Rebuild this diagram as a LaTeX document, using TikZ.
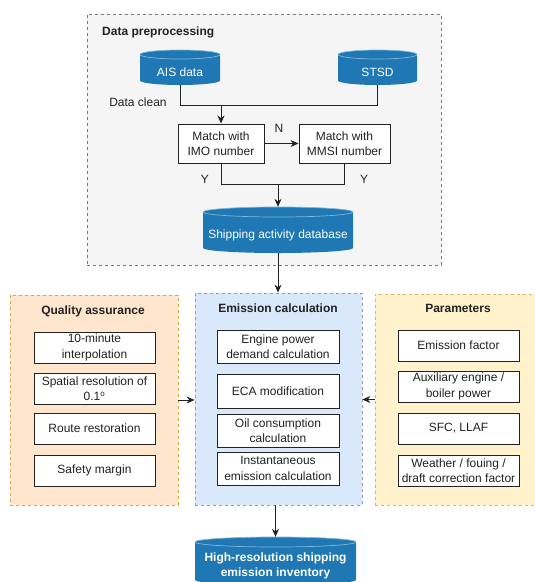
\documentclass[tikz,border=0pt]{standalone}
\usepackage{fontspec}
\setmainfont{Liberation Sans}
\usetikzlibrary{arrows.meta}
\definecolor{dbblue}{HTML}{1F78B4}
\definecolor{dbedge}{HTML}{7FB6DA}
\definecolor{grayfill}{HTML}{F5F5F5}
\definecolor{graydraw}{HTML}{777777}
\definecolor{qafill}{HTML}{FFE6CC}
\definecolor{qadraw}{HTML}{D9A441}
\definecolor{ecfill}{HTML}{DAE8FC}
\definecolor{ecdraw}{HTML}{7F9FCF}
\definecolor{pafill}{HTML}{FFF2CC}
\definecolor{padraw}{HTML}{D6B656}
\definecolor{ink}{HTML}{222222}
\tikzset{
  every node/.style={font=\fontsize{12}{15.5}\selectfont, text=ink},
  region/.style={draw, line width=0.8pt, dash pattern=on 3pt off 3pt, inner sep=0pt},
  innerbox/.style={draw=ink, fill=white, line width=1pt, align=center, inner sep=1pt, minimum width=121pt, minimum height=31pt},
  title/.style={font=\fontsize{12}{15.5}\selectfont\bfseries},
  lbl/.style={inner sep=1pt},
  conn/.style={draw=ink, line width=1pt},
  arr/.style={conn, -{Stealth[length=8pt,width=7pt]}},
  dbtext/.style={text=white, align=center, inner sep=0pt},
}
% name, cx, top, bottom, half width, ry, text
\newcommand{\dbcyl}[7]{%
  \fill[dbblue] (#2-#5,-#3-#6) arc[start angle=180,end angle=0,x radius=#5,y radius=#6]
     -- (#2+#5,-#4+#6) arc[start angle=0,end angle=-180,x radius=#5,y radius=#6] -- cycle;
  \draw[dbedge, line width=0.7pt] (#2,-#3-#6) ellipse [x radius=#5, y radius=#6];
  \node[inner sep=0pt, minimum width=2*#5, minimum height=#4-#3] (#1) at (#2,{-(#3+#4)/2}) {};
  \node[dbtext] (#1-t) at (#2,{-(#3+2*#6+#4)/2}) {#7};
}
\begin{document}
\begin{tikzpicture}[x=1pt,y=1pt]
\useasboundingbox (0,0) rectangle (535,-582);
\fill[white] (0,0) rectangle (535,-582);
\clip (0,0) rectangle (535,-582);

% regions
\node[region, draw=graydraw, fill=grayfill, minimum width=354pt, minimum height=251pt] (pre) at (264,-139.5) {};
\node[region, draw=qadraw, fill=qafill, minimum width=168pt, minimum height=210pt] (qa) at (94,-400) {};
\node[region, draw=ecdraw, fill=ecfill, minimum width=167pt, minimum height=212pt] (ec) at (278.5,-399) {};
\node[region, draw=padraw, fill=pafill, minimum width=165pt, minimum height=211pt] (pa) at (457.5,-399.5) {};

% titles
\node[title, anchor=west, inner sep=0pt] (pret) at (102,-32) {Data preprocessing};
\node[title] (qat) at (93,-311) {Quality assurance};
\node[title] (ect) at (278,-308) {Emission calculation};
\node[title] (pat) at (458,-308) {Parameters};

% cylinders
\dbcyl{ais}{180}{50}{85}{40}{4.5}{AIS data}
\dbcyl{stsd}{377.5}{50}{85}{39.5}{4.5}{STSD}
\dbcyl{db}{278}{207}{253}{75}{5}{Shipping activity database}
\dbcyl{inv}{275.5}{537}{585}{80.5}{5}{\bfseries High-resolution shipping\\\bfseries emission inventory}

% match boxes
\node[innerbox, minimum width=86pt, minimum height=39pt] (imo) at (221,-143.5) {Match with\\IMO number};
\node[innerbox, minimum width=91pt, minimum height=39pt] (mmsi) at (344.5,-143.5) {Match with\\MMSI number};

% labels
\node[lbl] (clean) at (138,-102) {Data clean};
\node[lbl] (nlab) at (279,-128) {N};
\node[lbl] (y1) at (205,-179) {Y};
\node[lbl] (y2) at (364,-179) {Y};

% quality assurance boxes
\node[innerbox] (qa1) at (94.5,-347.5) {10-minute\\interpolation};
\node[innerbox] (qa2) at (94.5,-388.5) {Spatial resolution of\\0.1\textsuperscript{o}};
\node[innerbox] (qa3) at (94.5,-428.5) {Route restoration};
\node[innerbox] (qa4) at (94.5,-470.5) {Safety margin};

% emission calculation boxes
\node[innerbox, minimum width=122pt, minimum height=33pt] (ec1) at (278,-346.5) {Engine power\\demand calculation};
\node[innerbox, minimum width=122pt, minimum height=34pt] (ec2) at (278,-391) {ECA modification};
\node[innerbox, minimum width=122pt, minimum height=33pt] (ec3) at (278,-430.5) {Oil consumption\\calculation};
\node[innerbox, minimum width=122pt, minimum height=33pt] (ec4) at (278,-468.5) {Instantaneous\\emission calculation};

% parameter boxes
\node[innerbox] (pa1) at (458.5,-345.5) {Emission factor};
\node[innerbox] (pa2) at (458.5,-386.5) {Auxiliary engine /\\boiler power};
\node[innerbox] (pa3) at (458.5,-428.5) {SFC, LLAF};
\node[innerbox] (pa4) at (458.5,-470.5) {Weather / fouing /\\draft correction factor};

% connectors
\coordinate (j1) at (221,-105);
\coordinate (j2) at (278,-184);
\draw[conn] (ais.south) -- (ais.south |- j1) -- (stsd.south |- j1) -- (stsd.south);
\draw[arr] (j1) -- (imo.north);
\draw[arr] (imo.east) -- (mmsi.west);
\draw[conn] (imo.south) -- (imo.south |- j2) -- (mmsi.south |- j2) -- (mmsi.south);
\draw[arr] (j2) -- (db.north);
\draw[arr] (db.south) -- (ec.north -| db.south);
\draw[arr] (qa.east) -- (qa.east -| ec.west);
\draw[arr] (pa.west) -- (pa.west -| ec.east);
\draw[arr] (ec.south -| inv.north) -- (inv.north);
\end{tikzpicture}
\end{document}
